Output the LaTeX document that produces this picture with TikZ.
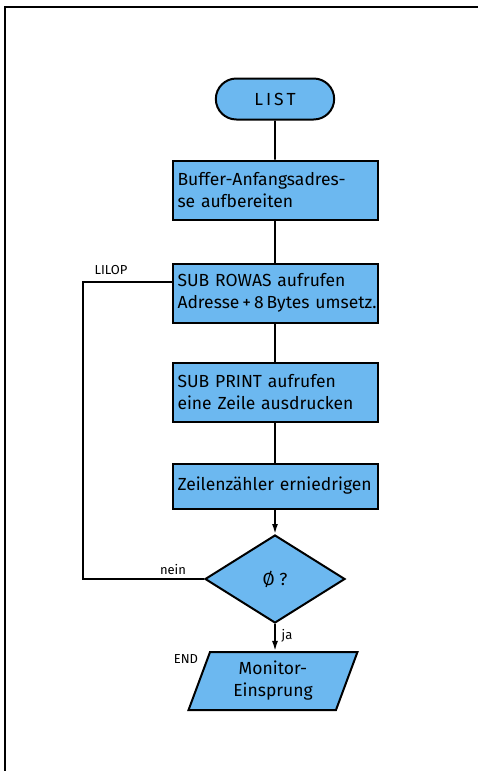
\documentclass[tikz,border=0pt]{standalone}
\usepackage{fontspec}
\setmainfont{Fira Sans}
\usepackage{tikz}
\usetikzlibrary{shapes.geometric,shapes.misc,arrows.meta,positioning}
\definecolor{flowblue}{RGB}{108,184,240}

\begin{document}
\begin{tikzpicture}[
  x=1pt, y=-1pt,
  font=\fontsize{17.5}{22}\selectfont,
  term/.style={rounded rectangle, draw=black, line width=2pt, fill=flowblue,
               minimum width=125pt, minimum height=41pt},
  box/.style={rectangle, draw=black, line width=2pt, fill=flowblue,
              minimum width=205pt, minimum height=59pt, text width=195pt,
              inner sep=0pt, align=left},
  dec/.style={diamond, draw=black, line width=2pt, fill=flowblue, aspect=1.6,
              minimum width=140pt, minimum height=88pt, inner sep=0pt},
  io/.style={trapezium, trapezium left angle=71, trapezium right angle=109,
             trapezium stretches=true, draw=black, line width=2pt, fill=flowblue,
             minimum width=169pt, minimum height=58pt, align=center, inner sep=0pt},
  lbl/.style={font=\fontsize{13}{15}\selectfont},
  line/.style={line width=1.7pt},
  arr/.style={line width=1.7pt, -{Latex[length=10pt,width=6pt]}}
]
\useasboundingbox (0,0) rectangle (478,771);

%% Frame
\draw[line width=2.2pt] (5,771) -- (5,7) -- (478,7);

%% Start
\node[term] (list) at (275,99) {L\,I\,S\,T};

%% Process boxes
\node[box] (buf)   at (275,190) {Buffer-Anfangsadres-\\se aufbereiten};
\node[box] (rowas) at (275,293) {SUB ROWAS aufrufen\\\mbox{Adresse\,+\,8\,Bytes umsetz.}};
\node[box] (print) at (275,392) {SUB PRINT aufrufen\\eine Zeile ausdrucken};
\node[box, minimum height=45pt] (zeile) at (275,486) {Zeilenz\"ahler erniedrigen};

%% Decision
\node[dec] (null) at (275,579) {\O\ ?};

%% Exit
\node[io] (mon) at (273,681) {Monitor-\\Einsprung};

%% Arrows
\draw[line] (list) -- (buf);
\draw[line] (buf) -- (rowas);
\draw[line] (rowas) -- (print);
\draw[line] (print) -- (zeile);
\draw[arr] (zeile) -- (null);
\draw[arr] (null) -- (null |- mon.north);

%% Loop back
\coordinate (lilop) at (83,282);
\draw[line] (null.west) -| (lilop) -- (rowas.west |- lilop);

%% Labels
\node[lbl] (lilopl) at (111,270) {LILOP};
\node[lbl] (neinl) at (173,570) {nein};
\node[lbl] (jal) at (287,636) {ja};
\node[lbl] (endl) at (186,659) {END};

\end{tikzpicture}
\end{document}
